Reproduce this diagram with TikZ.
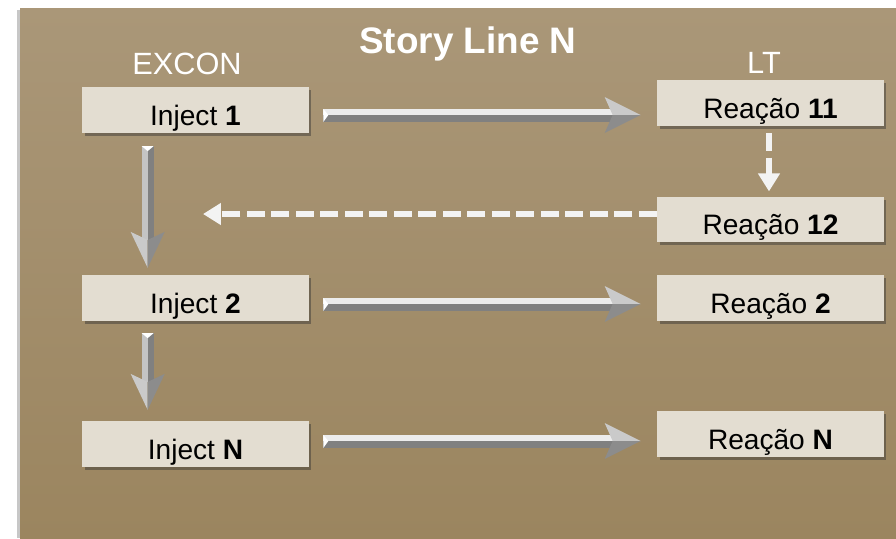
\documentclass[tikz,border=0pt]{standalone}
\usepackage{fontspec}
\setmainfont{Liberation Sans}
\usetikzlibrary{calc,shadows,arrows.meta}

\definecolor{paneltop}{RGB}{170,151,120}
\definecolor{panelbot}{RGB}{155,133,95}
\definecolor{boxfill}{RGB}{227,221,209}
\definecolor{shaftlite}{RGB}{236,236,236}
\definecolor{shaftdark}{RGB}{128,128,128}
\definecolor{vlite}{RGB}{196,196,196}
\definecolor{headlite}{RGB}{202,202,202}
\definecolor{headdark}{RGB}{140,140,140}
\definecolor{dashwhite}{RGB}{243,243,243}

\tikzset{
  box/.style={fill=boxfill, minimum width=4.54cm, minimum height=0.91cm, inner sep=0pt,
    text height=0.6cm, text depth=0pt, font=\fontsize{16}{19}\selectfont,
    drop shadow={shadow xshift=0.05cm, shadow yshift=-0.06cm, opacity=0.45, fill=black!80}},
  colhead/.style={text=white, font=\fontsize{17.5}{21}\selectfont, anchor=base},
  dasharrow/.style={draw=dashwhite, line width=0.13cm, dash pattern=on 0.36cm off 0.13cm,
    -{Triangle[width=0.42cm,length=0.36cm]}},
}

% beveled grey arrows: #1 tail, #2 tip
\newcommand{\hbeam}[2]{%
  \fill[shaftlite] ($(#1)+(0,-6)$) rectangle ($(#2)+(-28,0)$);
  \fill[shaftdark] (#1) rectangle ($(#2)+(-28,7)$);
  \fill[white] ($(#1)+(0,-6)$) -- ($(#1)+(0,7)$) -- ($(#1)+(5,0)$) -- cycle;
  \fill[headlite] (#2) -- ++(-36,-18) -- ++(8,18) -- cycle;
  \fill[headdark] (#2) -- ++(-36,18) -- ++(8,-18) -- cycle;
}
\newcommand{\vbeam}[2]{%
  \fill[vlite] ($(#1)+(-6,0)$) rectangle ($(#2)+(0,-28)$);
  \fill[shaftdark] (#1) rectangle ($(#2)+(6,-28)$);
  \fill[white] ($(#1)+(-6,0)$) -- ($(#1)+(6,0)$) -- ($(#1)+(0,5)$) -- cycle;
  \fill[headlite] (#2) -- ++(-17,-36) -- ++(17,8) -- cycle;
  \fill[headdark] (#2) -- ++(17,-36) -- ++(-17,8) -- cycle;
}

\begin{document}
\begin{tikzpicture}[x=0.02cm, y=-0.02cm]
\useasboundingbox (0,0) rectangle (896,538);
\fill[white] (0,0) rectangle (896,538);
\fill[black!22] (17,10) rectangle (20,538);
\shade[top color=paneltop, bottom color=panelbot] (20,8) rectangle (896,538);

% titles
\node[anchor=base, text=white, font=\bfseries\fontsize{21}{25}\selectfont] (title) at (468,53) {Story Line N};
\node[colhead] (excon) at (187,74) {EXCON};
\node[colhead] (lt) at (764,73) {LT};

% EXCON side
\node[box] (inj1) at (195.5,110) {Inject \textbf{1}};
\node[box] (inj2) at (195.5,298) {Inject \textbf{2}};
\node[box] (injn) at (195.5,444) {Inject \textbf{N}};

% LT side
\node[box] (rea11) at (770.5,103) {Reação \textbf{11}};
\node[box] (rea12) at (770.5,219.5) {Reação \textbf{12}};
\node[box] (rea2) at (770.5,298) {Reação \textbf{2}};
\node[box] (rean) at (770.5,434) {Reação \textbf{N}};

% injects to reactions
\coordinate (h1s) at ($(inj1.east)+(14,5)$);
\coordinate (h1t) at ($(rea11.west |- h1s)+(-16,0)$);
\hbeam{h1s}{h1t}
\coordinate (h2s) at ($(inj2.east)+(14,6)$);
\coordinate (h2t) at ($(rea2.west |- h2s)+(-16,0)$);
\hbeam{h2s}{h2t}
\coordinate (h3s) at ($(injn.east)+(14,-3)$);
\coordinate (h3t) at ($(rean.west |- h3s)+(-16,0)$);
\hbeam{h3s}{h3t}

% inject sequence
\coordinate (v1s) at ($(inj1.south west)+(66,13)$);
\coordinate (v1t) at ($(inj2.north west)+(66,-7)$);
\vbeam{v1s}{v1t}
\coordinate (v2s) at ($(inj2.south west)+(66,12)$);
\coordinate (v2t) at ($(injn.north west)+(66,-11)$);
\vbeam{v2s}{v2t}

% reaction feedback
\draw[dasharrow] ($(rea11.south)+(-1.5,7)$) -- ($(rea12.north)+(-1.5,-5)$);
\coordinate (back) at (203,214);
\draw[dasharrow] (rea12.west |- back) -- (back);
\end{tikzpicture}
\end{document}
